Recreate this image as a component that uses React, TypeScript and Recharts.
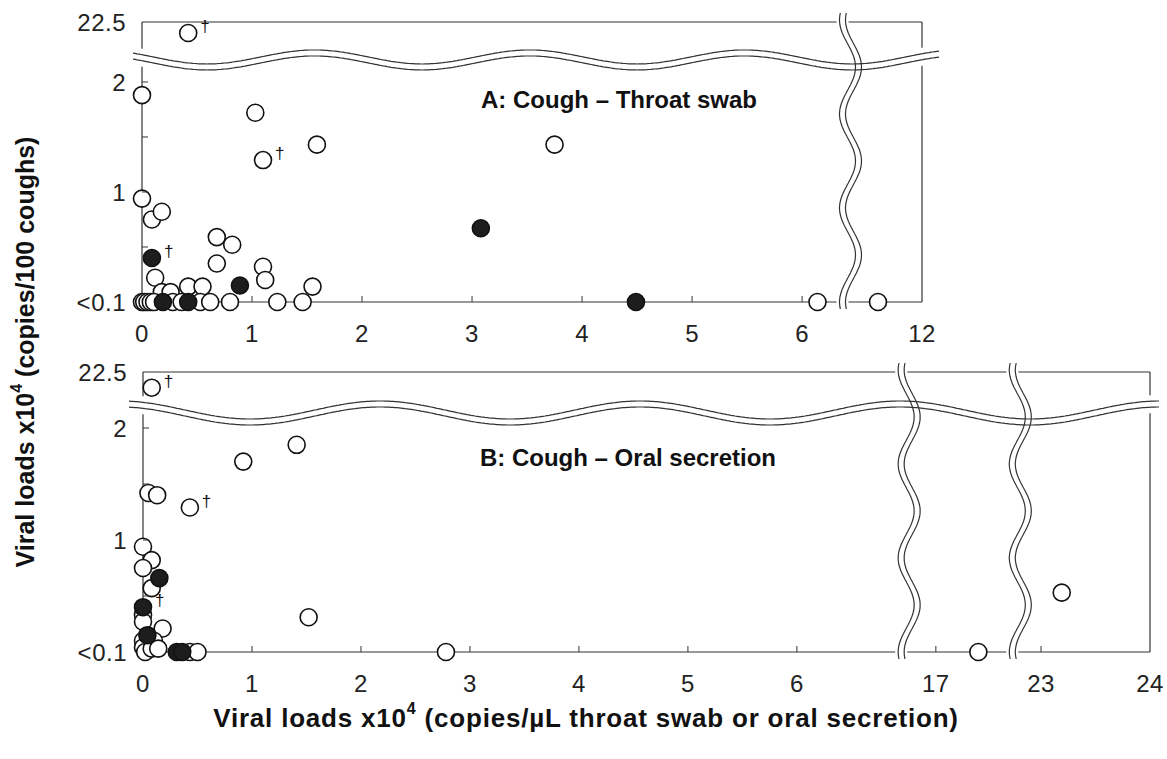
import { ReferenceLine, Scatter, ScatterChart, XAxis, YAxis } from "recharts";

// [x, y, dagger]
type Pt = [number, number, number?];

// Panel A: cough vs throat swab
const throatOpen: Pt[] = [
  [0.42, 22.4, 1], [0, 1.88], [1.03, 1.72], [1.59, 1.43], [1.1, 1.29, 1], [3.75, 1.43],
  [0, 0.94], [0.09, 0.75], [0.18, 0.82], [0.68, 0.59], [0.82, 0.52], [0.68, 0.35],
  [0.12, 0.22], [1.1, 0.32], [1.12, 0.2], [1.55, 0.14], [0.18, 0.09], [0.26, 0.09],
  [0.42, 0.14], [0.55, 0.14],
  [0, 0], [0.02, 0], [0.05, 0], [0.08, 0], [0.11, 0], [0.28, 0], [0.36, 0], [0.53, 0],
  [0.62, 0], [0.8, 0], [1.23, 0], [1.46, 0], [6.14, 0], [11.6, 0],
];
const throatFilled: Pt[] = [
  [0.09, 0.4, 1], [0.89, 0.15], [3.08, 0.67], [4.49, 0], [0.19, 0], [0.42, 0],
];

// Panel B: cough vs oral secretion
const oralOpen: Pt[] = [
  [0.08, 22.36, 1], [1.41, 1.85], [0.92, 1.7], [0.05, 1.42], [0.13, 1.4], [0.43, 1.29, 1],
  [0, 0.94], [0.08, 0.82], [0, 0.75], [0.08, 0.57], [0, 0.33], [0, 0.27], [0.18, 0.21],
  [1.52, 0.31], [0, 0.1], [0.1, 0.1], [0, 0.04], [0.02, 0], [0.08, 0.03], [0.14, 0.03],
  [0.43, 0], [0.5, 0], [2.78, 0], [17.39, 0], [23.19, 0.53],
];
const oralFilled: Pt[] = [
  [0.15, 0.66], [0, 0.4, 1], [0.04, 0.15], [0.31, 0], [0.36, 0],
];

const throatXTicks = [0, 1, 2, 3, 4, 5, 6, 12];
const oralXTicks = [0, 1, 2, 3, 4, 5, 6, 17, 23, 24];
const yTicks = [0, 0.5, 1, 1.5, 2, 22.5];
const yTickLabels: Record<string, string> = { "0": "<0.1", "1": "1", "2": "2", "22.5": "22.5" };

const FONT = '"Liberation Sans", Arial, Helvetica, sans-serif';

type Seg = { from: number; shift: number };
// broken axis: each segment keeps the unit scale, shifted to sit after the break
const mapper = (segs: Seg[]) => (v: number) => {
  let s = 0;
  for (const seg of segs) if (v >= seg.from) s = seg.shift;
  return v + s;
};

const throatX = mapper([{ from: 0, shift: 0 }, { from: 8, shift: -4.91 }]);
const oralX = mapper([{ from: 0, shift: 0 }, { from: 10, shift: -9.725 }, { from: 20, shift: -14.76 }]);
const throatY = mapper([{ from: 0, shift: 0 }, { from: 10, shift: -19.955 }]);
const oralY = mapper([{ from: 0, shift: 0 }, { from: 10, shift: -20 }]);

function hCurve(x1: number, x2: number, yc: number, amp: number, len: number, phase: number, off: number) {
  const pts: [number, number][] = [];
  for (let x = x1; x <= x2; x += 2) {
    pts.push([x, yc + off + amp * Math.cos((2 * Math.PI * (x - phase)) / len)]);
  }
  return pts;
}
function vCurve(y1: number, y2: number, xc: number, amp: number, len: number, phase: number, off: number) {
  const pts: [number, number][] = [];
  for (let y = y1; y <= y2; y += 2) {
    pts.push([xc + off + amp * Math.cos((2 * Math.PI * (y - phase)) / len), y]);
  }
  return pts;
}
const toPath = (pts: [number, number][]) =>
  pts.map((p, i) => (i ? "L" : "M") + p[0].toFixed(1) + "," + p[1].toFixed(1)).join("");

type Wave = { amp: number; len: number; phase: number; left: number; right: number };

const hBand = (w: Wave) => (p: any) => {
  const a = hCurve(p.x1 - w.left, p.x2 + w.right, p.y1, w.amp, w.len, w.phase, -9);
  const b = hCurve(p.x1 - w.left, p.x2 + w.right, p.y1, w.amp, w.len, w.phase, 9).reverse();
  return <path d={toPath(a.concat(b)) + "Z"} fill="#fff" stroke="none" />;
};
const hLines = (w: Wave) => (p: any) => (
  <g fill="none" stroke="#333" strokeWidth={1.2}>
    <path d={toPath(hCurve(p.x1 - w.left, p.x2 + w.right, p.y1, w.amp, w.len, w.phase, -3))} />
    <path d={toPath(hCurve(p.x1 - w.left, p.x2 + w.right, p.y1, w.amp, w.len, w.phase, 3))} />
  </g>
);
const vWave = { amp: 8, len: 94, phase: 67 };
const vBand = (p: any) => {
  const y1 = Math.min(p.y1, p.y2) - 9;
  const y2 = Math.max(p.y1, p.y2) + 8;
  const a = vCurve(y1, y2, p.x1, vWave.amp, vWave.len, vWave.phase, -6);
  const b = vCurve(y1, y2, p.x1, vWave.amp, vWave.len, vWave.phase, 6).reverse();
  return <path d={toPath(a.concat(b)) + "Z"} fill="#fff" stroke="none" />;
};
const vLines = (p: any) => {
  const y1 = Math.min(p.y1, p.y2) - 9;
  const y2 = Math.max(p.y1, p.y2) + 8;
  return (
    <g fill="none" stroke="#333" strokeWidth={1.2}>
      <path d={toPath(vCurve(y1, y2, p.x1, vWave.amp, vWave.len, vWave.phase, -3))} />
      <path d={toPath(vCurve(y1, y2, p.x1, vWave.amp, vWave.len, vWave.phase, 3))} />
    </g>
  );
};

const dot = (fill: string) => (p: any) => (
  <g>
    <circle cx={p.cx} cy={p.cy} r={8.5} fill={fill} stroke="#111" strokeWidth={1.6} />
    {p.payload && p.payload.dagger ? (
      <text x={p.cx + 12} y={p.cy - 1} fontSize={17} fontFamily={FONT} fill="#111">
        †
      </text>
    ) : null}
  </g>
);
const openDot = dot("#fff");
const filledDot = dot("#1d1d1d");

function makeXTick(ticks: number[], map: (v: number) => number) {
  return (p: any) => {
    const real = ticks.find((t) => Math.abs(map(t) - p.payload.value) < 1e-6);
    const inner = real !== undefined && real !== ticks[0] && real !== ticks[ticks.length - 1];
    return (
      <g>
        {inner && <line x1={p.x} x2={p.x} y1={p.y} y2={p.y - 6} stroke="#333" />}
        <text x={p.x} y={p.y + 40} textAnchor="middle" fontSize={24} letterSpacing={0.5} fontFamily={FONT} fill="#222">
          {real}
        </text>
      </g>
    );
  };
}
function makeYTick(map: (v: number) => number) {
  return (p: any) => {
    const real = yTicks.find((t) => Math.abs(map(t) - p.payload.value) < 1e-6);
    const label = real === undefined ? "" : yTickLabels[String(real)] || "";
    const inner = real !== undefined && real !== 0 && real !== 22.5;
    return (
      <g>
        {inner && <line x1={p.x} x2={p.x + 6} y1={p.y} y2={p.y} stroke="#333" />}
        <text x={p.x - 16} y={p.y} dy="0.36em" textAnchor="end" fontSize={24} letterSpacing={0.5} fontFamily={FONT} fill="#222">
          {label}
        </text>
      </g>
    );
  };
}

interface PanelProps {
  open: Pt[];
  filled: Pt[];
  mapX: (v: number) => number;
  mapY: (v: number) => number;
  xTicks: number[];
  xBreaks: number[];
  yBreak: number;
  rightMargin: number;
  yWidth: number;
  wave: Wave;
}

function Panel({ open, filled, mapX, mapY, xTicks, xBreaks, yBreak, rightMargin, yWidth, wave }: PanelProps) {
  const toData = (pts: Pt[]) => pts.map(([x, y, d]) => ({ x: mapX(x), y: mapY(y), dagger: !!d }));
  const xMax = mapX(xTicks[xTicks.length - 1]);
  const yMax = mapY(yTicks[yTicks.length - 1]);
  return (
    <ScatterChart width={1167} height={350} margin={{ top: 22, right: rightMargin, bottom: 8, left: 0 }}>
      <XAxis
        type="number"
        dataKey="x"
        domain={[0, xMax]}
        ticks={xTicks.map(mapX)}
        interval={0}
        axisLine={false}
        tickLine={false}
        tickSize={0}
        tickMargin={0}
        height={40}
        tick={makeXTick(xTicks, mapX)}
      />
      <YAxis
        type="number"
        dataKey="y"
        domain={[0, yMax]}
        ticks={yTicks.map(mapY)}
        interval={0}
        axisLine={false}
        tickLine={false}
        tickSize={0}
        tickMargin={0}
        width={yWidth}
        tick={makeYTick(mapY)}
      />
      <ReferenceLine x={0} stroke="#333" strokeWidth={1.2} />
      <ReferenceLine x={xMax} stroke="#333" strokeWidth={1.2} />
      <ReferenceLine y={0} stroke="#333" strokeWidth={1.2} />
      <ReferenceLine y={yMax} stroke="#333" strokeWidth={1.2} />
      <ReferenceLine y={yBreak} shape={hBand(wave)} />
      {xBreaks.map((b) => (
        <ReferenceLine key={"vb" + b} x={b} shape={vBand} />
      ))}
      <ReferenceLine y={yBreak} shape={hLines(wave)} />
      {xBreaks.map((b) => (
        <ReferenceLine key={"vl" + b} x={b} shape={vLines} />
      ))}
      <Scatter data={toData(open)} shape={openDot} isAnimationActive={false} />
      <Scatter data={toData(filled)} shape={filledDot} isAnimationActive={false} />
    </ScatterChart>
  );
}

const titleStyle: React.CSSProperties = {
  position: "absolute",
  transform: "translate(-50%, -50%)",
  whiteSpace: "nowrap",
  fontWeight: 700,
  fontSize: 24,
  color: "#111",
};
const supStyle: React.CSSProperties = { fontSize: 16, verticalAlign: "top", lineHeight: 1, position: "relative", top: -2 };

export default function App() {
  return (
    <div style={{ position: "absolute", left: 0, top: 0, width: 1167, height: 759, background: "#fff", fontFamily: FONT }}>
      <div style={{ position: "absolute", left: 0, top: 0 }}>
        <Panel
          open={throatOpen}
          filled={throatFilled}
          mapX={throatX}
          mapY={throatY}
          xTicks={throatXTicks}
          xBreaks={[6.44]}
          yBreak={2.2}
          rightMargin={245}
          yWidth={142}
          wave={{ amp: 7, len: 215, phase: 207, left: 9, right: 18 }}
        />
      </div>
      <div style={{ position: "absolute", left: 0, top: 350 }}>
        <Panel
          open={oralOpen}
          filled={oralFilled}
          mapX={oralX}
          mapY={oralY}
          xTicks={oralXTicks}
          xBreaks={[7.03, 8.05]}
          yBreak={2.134}
          rightMargin={17}
          yWidth={143}
          wave={{ amp: 9, len: 260, phase: 250, left: 14, right: 10 }}
        />
      </div>
      <div style={{ ...titleStyle, left: 619, top: 100 }}>A: Cough – Throat swab</div>
      <div style={{ ...titleStyle, left: 628, top: 458 }}>B: Cough – Oral secretion</div>
      <div style={{ ...titleStyle, left: 586, top: 718, fontSize: 26, letterSpacing: 0.8 }}>
        Viral loads x10<span style={supStyle}>4</span> (copies/µL throat swab or oral secretion)
      </div>
      <div style={{ ...titleStyle, left: 25, top: 352, fontSize: 25, transform: "translate(-50%, -50%) rotate(-90deg)" }}>
        Viral loads x10<span style={supStyle}>4</span> (copies/100 coughs)
      </div>
    </div>
  );
}
